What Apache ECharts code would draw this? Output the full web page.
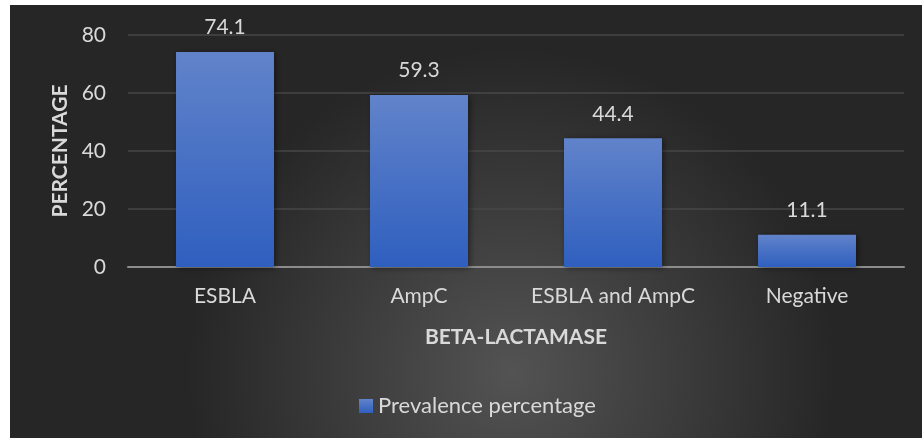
<!DOCTYPE html>
<html>
<head>
<meta charset="utf-8">
<script src="https://cdn.jsdelivr.net/npm/echarts@6/dist/echarts.min.js"></script>
<style>
  html, body { margin: 0; padding: 0; background: #ffffff; }
  #chart { width: 922px; height: 438px; }
</style>
</head>
<body>
<div id="chart"></div>
<script>
// Beta-lactamase prevalence (%)
const categories = ['ESBLA', 'AmpC', 'ESBLA and AmpC', 'Negative'];
const prevalence = [74.1, 59.3, 44.4, 11.1];
const seriesName = 'Prevalence percentage';
const yTicks = [0, 20, 40, 60, 80];

const FONT = 'Lato, "Open Sans", sans-serif';
const TEXT = '#d9d9d9';

const chart = echarts.init(document.getElementById('chart'), null, { renderer: 'canvas' });

chart.setOption({
  animation: false,
  graphic: [{
    type: 'rect',
    z: -10,
    silent: true,
    shape: { x: 10, y: 5, width: 912, height: 433 },
    style: {
      fill: {
        type: 'radial', x: 0.55, y: 0.85, r: 0.75,
        colorStops: [
          { offset: 0, color: '#535353' },
          { offset: 1, color: '#262626' }
        ]
      }
    }
  }],
  grid: { left: 128, right: 18, top: 35, bottom: 171 },
  legend: {
    bottom: 16,
    left: 354,
    itemWidth: 14,
    itemHeight: 14,
    itemGap: 6,
    icon: 'rect',
    textStyle: { color: TEXT, fontSize: 22, fontFamily: FONT },
    data: [seriesName]
  },
  xAxis: {
    type: 'category',
    data: categories,
    name: 'BETA-LACTAMASE',
    nameLocation: 'middle',
    nameGap: 60,
    nameTextStyle: { color: TEXT, fontSize: 21, fontWeight: 'bold', fontFamily: FONT },
    axisLine: { lineStyle: { color: '#8c8c8c', width: 2 } },
    axisTick: { show: false },
    axisLabel: { color: TEXT, fontSize: 21, fontFamily: FONT, margin: 19, interval: 0 }
  },
  yAxis: {
    type: 'value',
    min: yTicks[0],
    max: yTicks[yTicks.length - 1],
    interval: 20,
    name: 'PERCENTAGE',
    nameLocation: 'middle',
    nameGap: 56,
    nameRotate: 90,
    nameTextStyle: { color: TEXT, fontSize: 21, fontWeight: 'bold', fontFamily: FONT },
    axisLine: { show: false },
    axisTick: { show: false },
    axisLabel: { color: TEXT, fontSize: 21, fontFamily: FONT, margin: 22 },
    splitLine: { lineStyle: { color: '#474747', width: 1.5 } }
  },
  series: [{
    name: seriesName,
    type: 'bar',
    data: prevalence,
    barWidth: '50.5%',
    itemStyle: {
      color: {
        type: 'linear', x: 0, y: 0, x2: 0, y2: 1,
        colorStops: [
          { offset: 0, color: '#6183ca' },
          { offset: 1, color: '#2f5fbf' }
        ]
      },
      shadowColor: 'rgba(0,0,0,0.45)',
      shadowBlur: 6,
      shadowOffsetX: 2,
      shadowOffsetY: 1
    },
    label: {
      show: true,
      position: 'top',
      distance: 14,
      color: TEXT,
      fontSize: 21,
      fontFamily: FONT
    }
  }]
});
</script>
</body>
</html>
